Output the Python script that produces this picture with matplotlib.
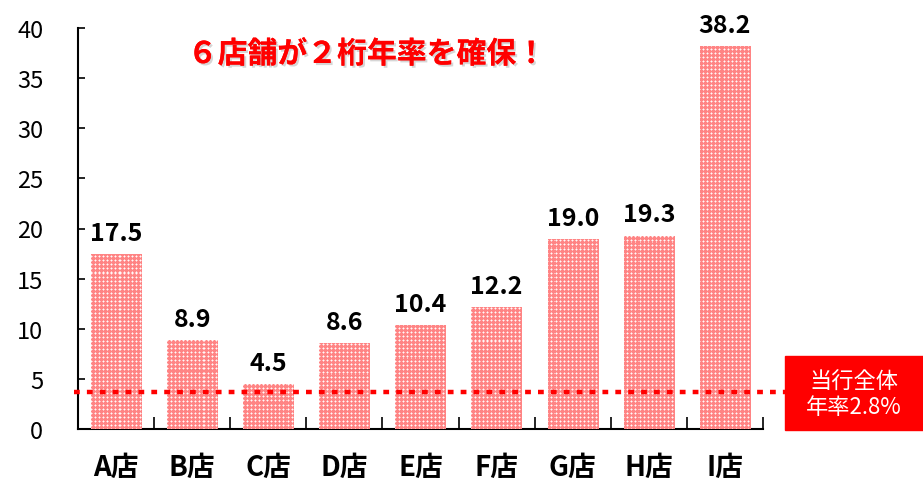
import matplotlib
matplotlib.use("Agg")
import matplotlib.pyplot as plt
import matplotlib.patheffects as pe
from matplotlib.patches import Rectangle
import numpy as np

plt.rcParams['font.family'] = ['Noto Sans CJK JP', 'DejaVu Sans']

categories = ["A店", "B店", "C店", "D店", "E店", "F店", "G店", "H店", "I店"]
values = [17.5, 8.9, 4.5, 8.6, 10.4, 12.2, 19.0, 19.3, 38.2]
value_labels = ["17.5", "8.9", "4.5", "8.6", "10.4", "12.2", "19.0", "19.3", "38.2"]
overall_line = 3.7
overall_label = "当行全体\n年率2.8%"
title_text = "６店舗が２桁年率を確保！"
yticks = [0, 5, 10, 15, 20, 25, 30, 35, 40]

W, H = 923, 489
fig = plt.figure(figsize=(W/100, H/100), dpi=100)
ax_l, ax_r, ax_t, ax_b = 78, 763, 29, 430
ax = fig.add_axes([ax_l/W, 1-ax_b/H, (ax_r-ax_l)/W, (ax_b-ax_t)/H])

x = np.arange(len(categories))
bars = ax.bar(x, values, width=0.66, color='#ff8a8a', edgecolor='none', zorder=2)

# dotted texture (pink with small white dots), clipped to each bar
th, tw = ax_b - ax_t, ax_r - ax_l
tex = np.zeros((th, tw, 3))
base = np.array([1.0, 0.52, 0.52])
mid = np.array([1.0, 0.76, 0.76])
white = np.array([1.0, 0.98, 0.98])
tex[:, :] = base
ii, jj = np.mgrid[0:th, 0:tw]
ri, rj = ii % 4, jj % 4
tex[((ri == 1) & ((rj == 0) | (rj == 2))) | ((rj == 1) & ((ri == 0) | (ri == 2)))] = mid
tex[(ri == 1) & (rj == 1)] = white
for b in bars:
    im = ax.imshow(tex, extent=(-0.5, len(categories) - 0.5, 0, 40), aspect='auto',
                   interpolation='nearest', zorder=3, origin='upper')
    im.set_clip_path(b)

for xi, v, lab in zip(x, values, value_labels):
    ax.text(xi, v + 0.9, lab, ha='center', va='bottom', fontsize=18, fontweight='bold', color='black')

ax.set_xlim(-0.5, len(categories) - 0.5)
ax.set_ylim(0, 40)
ax.set_yticks(yticks)
ax.set_yticklabels([str(t) for t in yticks], fontsize=17)
ax.tick_params(axis='y', direction='in', length=5, width=1.2, pad=25)
ax.set_xticks(np.arange(len(categories) + 1) - 0.5)
ax.set_xticklabels([])
ax.tick_params(axis='x', direction='in', length=9, width=1.2)
ax.set_xticks(x, minor=True)
ax.set_xticklabels(categories, minor=True, fontsize=20, fontweight='bold')
ax.tick_params(axis='x', which='minor', length=0, pad=17)

for s in ['top', 'right']:
    ax.spines[s].set_visible(False)
for s in ['left', 'bottom']:
    ax.spines[s].set_linewidth(1.5)

ax.plot([-0.55, 8.8], [overall_line, overall_line], color='#ff0000', linewidth=3.2,
        dashes=(1.3, 1.6), zorder=4, clip_on=False, solid_capstyle='butt')

fig.patches.append(Rectangle((785/W, 1-431/H), (W-785)/W, (431-357)/H,
                             transform=fig.transFigure, color='#ff0000', zorder=5))
fig.text(854/W, 1-395/H, overall_label, ha='center', va='center', color='white',
         fontsize=16, linespacing=1.15, zorder=6)

fig.text(367/W, 1-55/H, title_text, ha='center', va='center', color='#ff0000',
         fontsize=21.5, fontweight='bold',
         path_effects=[pe.withSimplePatchShadow(offset=(1.5, -1.5), shadow_rgbFace='#bbbbbb', alpha=0.6), pe.Normal()])

fig.savefig("out.png", dpi=100)
